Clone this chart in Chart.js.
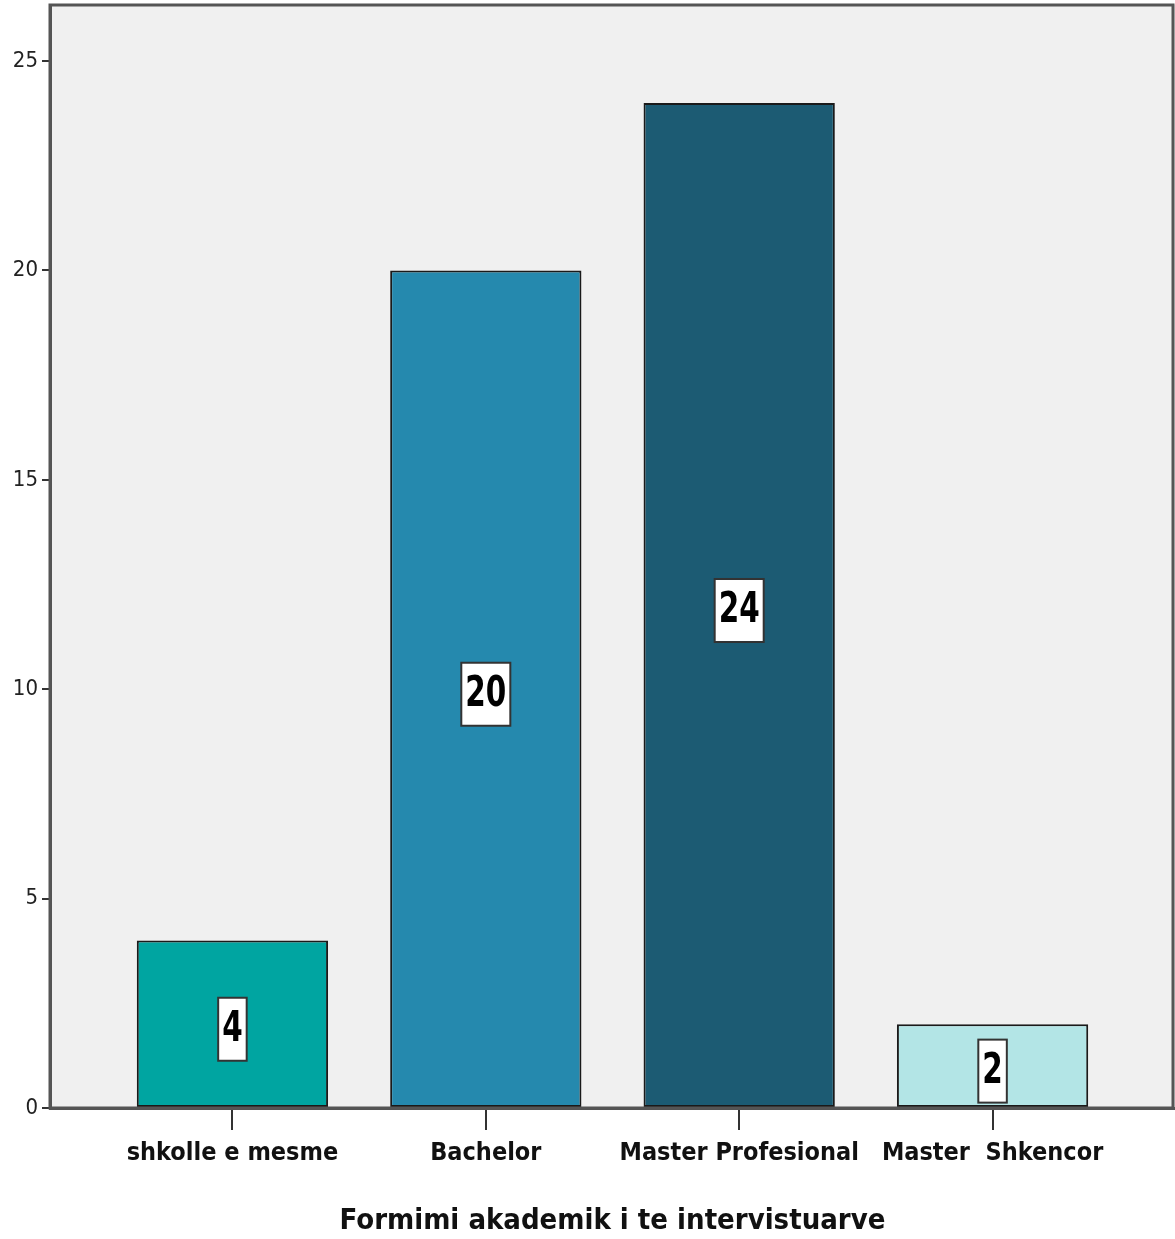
<!DOCTYPE html>
<html>
<head>
<meta charset="utf-8">
<script src="https://cdn.jsdelivr.net/npm/chart.js@4"></script>
<style>
  html, body { margin: 0; padding: 0; background: #ffffff; }
  #wrap { width: 1175px; height: 1239px; }
</style>
</head>
<body>
<div id="wrap"><canvas id="chart"></canvas></div>
<script>
const categories = ["shkolle e mesme", "Bachelor", "Master Profesional", "Master  Shkencor"];
const counts = [4, 20, 24, 2];
const barColors = ["#00A5A1", "#2589AE", "#1C5B73", "#B3E5E6"];
const yTicks = [0, 5, 10, 15, 20, 25];
const axisTitle = "Formimi akademik i te intervistuarve";

const FONT = "'Liberation Sans Narrow', 'DejaVu Sans Condensed', 'Liberation Sans', sans-serif";

// grey plot background and the dark frame around it
const framePlugin = {
  id: "frame",
  beforeDraw(chart) {
    const { ctx, chartArea: a } = chart;
    ctx.save();
    ctx.fillStyle = "#F0F0F0";
    ctx.fillRect(a.left, a.top, a.right - a.left, a.bottom - a.top);
    ctx.restore();
  },
  afterDatasetsDraw(chart) {
    const { ctx, chartArea: a } = chart;
    ctx.save();
    ctx.strokeStyle = "#555555";
    ctx.lineWidth = 3;
    ctx.strokeRect(a.left, a.top, a.right - a.left - 2, a.bottom - a.top);
    ctx.restore();
  }
};

// value boxes in the middle of every bar (digits squeezed to a narrow face)
const valueBoxes = {
  id: "valueBoxes",
  afterDatasetsDraw(chart) {
    const { ctx } = chart;
    const meta = chart.getDatasetMeta(0);
    const yScale = chart.scales.y;
    const squeeze = 0.78;
    ctx.save();
    ctx.font = "bold 42px " + FONT;
    ctx.textAlign = "center";
    ctx.textBaseline = "middle";
    meta.data.forEach((bar, i) => {
      const v = counts[i];
      const cy = yScale.getPixelForValue(v / 2) + 5;
      const txt = String(v);
      const w = ctx.measureText(txt).width * squeeze + 8;
      const h = 63;
      ctx.fillStyle = "#ffffff";
      ctx.fillRect(bar.x - w / 2, cy - h / 2, w, h);
      ctx.strokeStyle = "#333333";
      ctx.lineWidth = 2;
      ctx.strokeRect(bar.x - w / 2, cy - h / 2, w, h);
      ctx.save();
      ctx.translate(bar.x, cy + 1);
      ctx.scale(squeeze, 1);
      ctx.fillStyle = "#000000";
      ctx.fillText(txt, 0, 0);
      ctx.restore();
    });
    ctx.restore();
  }
};

new Chart(document.getElementById("chart"), {
  type: "bar",
  data: {
    datasets: [{
      data: counts.map((v, i) => ({ x: i, y: v })),
      backgroundColor: barColors,
      borderColor: "#1a1a1a",
      borderWidth: 2,
      borderSkipped: false,
      categoryPercentage: 1,
      barPercentage: 0.755
    }]
  },
  options: {
    responsive: true,
    maintainAspectRatio: false,
    animation: false,
    layout: { padding: { top: 5, right: 0, left: 0, bottom: 0 } },
    plugins: { legend: { display: false }, tooltip: { enabled: false } },
    scales: {
      x: {
        type: "linear",
        min: -0.72,
        max: 3.72,
        offset: false,
        afterBuildTicks: (s) => { s.ticks = categories.map((_, i) => ({ value: i })); },
        afterFit: (s) => { s.height = 131; s.paddingLeft = 0; s.paddingRight = 0; },
        grid: { offset: false, drawOnChartArea: false, tickLength: 22, color: "#333333", lineWidth: 2 },
        border: { display: true, color: "#555555", width: 3 },
        ticks: {
          autoSkip: false,
          maxRotation: 0,
          padding: 8,
          color: "#111111",
          font: { family: FONT, size: 25, weight: "bold" },
          callback: (v) => categories[v]
        },
        title: {
          display: true,
          text: axisTitle,
          color: "#111111",
          font: { family: FONT, size: 29, weight: "bold", lineHeight: 1.1 },
          padding: { top: 0, bottom: 2 }
        }
      },
      y: {
        min: 0,
        max: 26.34,
        afterBuildTicks: (s) => { s.ticks = yTicks.map((v) => ({ value: v })); },
        afterFit: (s) => { s.width = 50; s.paddingTop = 0; s.paddingBottom = 0; },
        grid: { drawOnChartArea: false, tickLength: 8, color: "#333333", lineWidth: 2 },
        border: { display: true, color: "#555555", width: 3 },
        ticks: {
          padding: 4,
          color: "#222222",
          font: { family: FONT, size: 22 }
        }
      }
    }
  },
  plugins: [framePlugin, valueBoxes]
});
</script>
</body>
</html>
